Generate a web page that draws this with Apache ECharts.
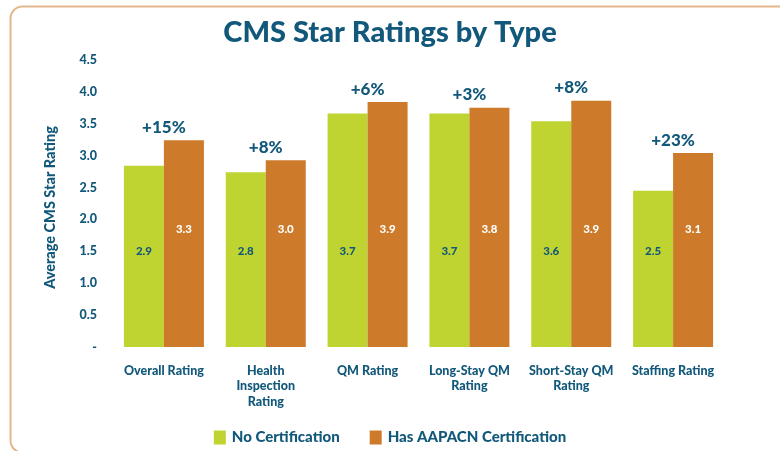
<!DOCTYPE html>
<html>
<head>
<meta charset="utf-8">
<script src="https://cdn.jsdelivr.net/npm/echarts@6/dist/echarts.min.js"></script>
<style>html,body{margin:0;padding:0;background:#fff}#c{width:780px;height:451px}</style>
</head>
<body>
<div id="c"></div>
<script>
const categories = ['Overall Rating', 'Health\nInspection\nRating', 'QM Rating', 'Long-Stay QM\nRating', 'Short-Stay QM\nRating', 'Staffing Rating'];
const noCert = [2.84, 2.74, 3.66, 3.66, 3.54, 2.45];
const hasCert = [3.24, 2.93, 3.84, 3.75, 3.86, 3.04];
const noCertLabels = ['2.9', '2.8', '3.7', '3.7', '3.6', '2.5'];
const hasCertLabels = ['3.3', '3.0', '3.9', '3.8', '3.9', '3.1'];
const pctLabels = ['+15%', '+8%', '+6%', '+3%', '+8%', '+23%'];
const yTicks = ['-', '0.5', '1.0', '1.5', '2.0', '2.5', '3.0', '3.5', '4.0', '4.5'];

const teal = '#11587A';
const green = '#BFD331';
const orange = '#CD7A2A';
const font = 'Lato';

const chart = echarts.init(document.getElementById('c'), null, {renderer: 'canvas'});
chart.setOption({
  backgroundColor: '#fff',
  animation: false,
  graphic: [{
    type: 'rect', left: 8, top: 4, z: -1,
    shape: {width: 820, height: 446, r: 12},
    style: {fill: 'none', stroke: '#E3B78B', lineWidth: 2}
  }],
  title: {
    text: 'CMS Star Ratings by Type', left: 'center', top: 13,
    textStyle: {fontFamily: font, fontWeight: 900, fontSize: 29, color: teal}
  },
  legend: {
    bottom: 1, left: 'center', itemWidth: 12, itemHeight: 14, itemGap: 30,
    icon: 'rect',
    textStyle: {fontFamily: font, fontWeight: 900, fontSize: 15, color: teal, padding: [0, 0, 0, 1]},
    data: ['No Certification', 'Has AAPACN Certification']
  },
  grid: {left: 113, right: 56, top: 60, bottom: 104},
  xAxis: {
    type: 'category', data: categories,
    axisLine: {show: false}, axisTick: {show: false},
    axisLabel: {fontFamily: font, fontWeight: 900, fontSize: 12.5, color: teal, margin: 16, lineHeight: 15.5, interval: 0}
  },
  yAxis: {
    type: 'value', min: 0, max: 4.5, interval: 0.5,
    name: 'Average CMS Star Rating', nameLocation: 'middle', nameGap: 55, nameRotate: 90,
    nameTextStyle: {fontFamily: font, fontWeight: 900, fontSize: 14.5, color: teal, padding: [0, 8, 0, 0]},
    splitLine: {show: false}, axisLine: {show: false}, axisTick: {show: false},
    axisLabel: {
      fontFamily: font, fontWeight: 900, fontSize: 12.5, color: teal, margin: 16,
      formatter: (v) => yTicks[Math.round(v / 0.5)]
    }
  },
  series: [
    {
      name: 'No Certification', type: 'bar', data: noCert, barWidth: 40, barGap: '0%',
      itemStyle: {color: green},
      label: {
        show: true, position: 'insideBottom', distance: 90,
        formatter: (p) => noCertLabels[p.dataIndex],
        fontFamily: font, fontWeight: 900, fontSize: 11.5, color: teal
      }
    },
    {
      name: 'Has AAPACN Certification', type: 'bar', data: hasCert, barWidth: 40,
      itemStyle: {color: orange},
      label: {
        show: true, position: 'insideBottom', distance: 112,
        formatter: (p) => hasCertLabels[p.dataIndex],
        fontFamily: font, fontWeight: 900, fontSize: 11.5, color: '#fff'
      },
      markPoint: {
        symbol: 'rect', symbolSize: 1, itemStyle: {color: 'transparent'},
        data: hasCert.map((v, i) => ({
          coord: [i, Math.max(v, noCert[i])], value: pctLabels[i],
          label: {
            show: true, offset: [-20, -13],
            formatter: pctLabels[i],
            fontFamily: font, fontWeight: 900, fontSize: 17, color: teal
          }
        }))
      }
    }
  ]
});
</script>
</body>
</html>
